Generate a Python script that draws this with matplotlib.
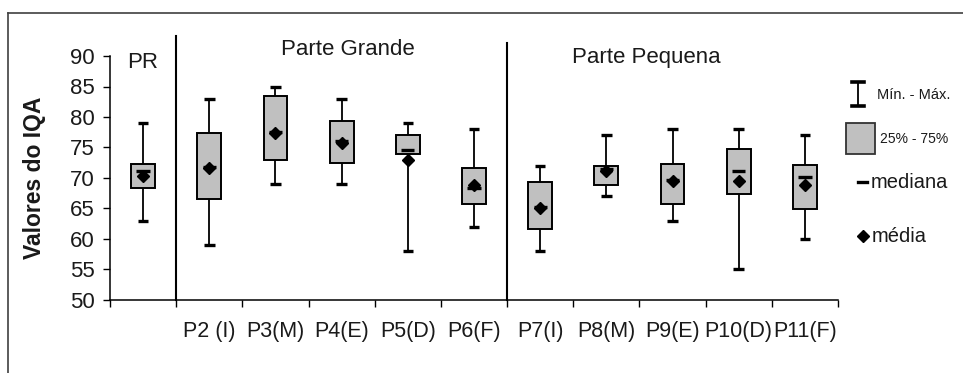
import matplotlib
matplotlib.use("Agg")
import matplotlib.pyplot as plt
from matplotlib.lines import Line2D
from matplotlib.patches import Rectangle

plt.rcParams['font.family'] = ['Liberation Sans', 'DejaVu Sans']

categories = ["PR", "P2 (I)", "P3(M)", "P4(E)", "P5(D)", "P6(F)",
              "P7(I)", "P8(M)", "P9(E)", "P10(D)", "P11(F)"]
tick_labels = ["", "P2 (I)", "P3(M)", "P4(E)", "P5(D)", "P6(F)",
               "P7(I)", "P8(M)", "P9(E)", "P10(D)", "P11(F)"]
mins = [63, 59, 69, 69, 58, 62, 58, 67, 63, 55, 60]
maxs = [79, 83, 85, 83, 79, 78, 72, 77, 78, 78, 77]
q1 = [68.4, 66.6, 72.9, 72.5, 74.0, 65.8, 61.6, 68.8, 65.8, 67.3, 64.9]
q3 = [72.3, 77.3, 83.4, 79.3, 77.1, 71.7, 69.3, 71.9, 72.3, 74.7, 72.1]
medians = [71.1, 71.8, 77.5, 76.0, 74.6, 68.3, 65.2, 71.5, 69.6, 71.1, 70.1]
means = [70.4, 71.6, 77.3, 75.7, 72.9, 68.8, 65.1, 71.1, 69.5, 69.5, 68.8]
group_labels = ["PR", "Parte Grande", "Parte Pequena"]

W, H = 963, 373
fig = plt.figure(figsize=(W / 100, H / 100), dpi=100)
ax = fig.add_axes([110 / W, 1 - 300 / H, 728 / W, 244 / H])

x = list(range(len(categories)))
txtc = "#1a1a1a"

# whiskers
ax.vlines(x, mins, maxs, color="black", lw=1.3, zorder=2)
ax.hlines(mins, [i - 0.08 for i in x], [i + 0.08 for i in x], color="black", lw=2.4, zorder=2)
ax.hlines(maxs, [i - 0.08 for i in x], [i + 0.08 for i in x], color="black", lw=2.4, zorder=2)
# boxes
ax.bar(x, [b - a for a, b in zip(q1, q3)], bottom=q1, width=0.36,
       color="#c0c0c0", edgecolor="black", linewidth=1.4, zorder=3)
# medians
ax.hlines(medians, [i - 0.1 for i in x], [i + 0.1 for i in x], color="black", lw=2.4, zorder=4)
# means
ax.plot(x, means, linestyle="none", marker="D", color="black", markersize=6.5, zorder=5)

ax.set_xlim(-0.5, 10.5)
ax.set_ylim(50, 90)
ax.set_yticks(range(50, 91, 5))
ax.tick_params(axis="y", labelsize=16, length=5, width=1, pad=6, labelcolor=txtc)
ax.set_xticks([i - 0.5 for i in range(12)])
ax.set_xticklabels([])
ax.set_xticks(x, minor=True)
ax.set_xticklabels(tick_labels, minor=True)
ax.tick_params(axis="x", which="major", length=5, width=1, direction="out")
ax.tick_params(axis="x", which="minor", length=0, labelsize=15.5, pad=15, labelcolor=txtc)
for s in ["top", "right"]:
    ax.spines[s].set_visible(False)
for s in ["left", "bottom"]:
    ax.spines[s].set_linewidth(1.1)

ax.set_ylabel("Valores do IQA", fontsize=16.5, fontweight="bold", color=txtc)
ax.yaxis.set_label_coords(-0.088, 0.5)

# group separators
ax.axvline(0.5, ymin=0, ymax=1.082, color="black", lw=1.5, clip_on=False)
ax.axvline(5.5, ymin=0, ymax=1.053, color="black", lw=1.5, clip_on=False)

ax.text(0, 89.0, group_labels[0], ha="center", va="center", fontsize=16, color=txtc)
ax.text(3.1, 91.0, group_labels[1], ha="center", va="center", fontsize=16, color=txtc)
ax.text(7.6, 89.8, group_labels[2], ha="center", va="center", fontsize=16, color=txtc)

# frame
fig.add_artist(Line2D([8 / W, 1], [1 - 13 / H, 1 - 13 / H], color="#404040", lw=1.2))
fig.add_artist(Line2D([8 / W, 8 / W], [0, 1 - 13 / H], color="#404040", lw=1.2))

# legend (manual)
def fx(px):
    return px / W

def fy(py):
    return 1 - py / H

fig.add_artist(Line2D([fx(858), fx(858)], [fy(82), fy(106)], color="black", lw=1.3))
fig.add_artist(Line2D([fx(852), fx(864)], [fy(82), fy(82)], color="black", lw=2.6))
fig.add_artist(Line2D([fx(852), fx(864)], [fy(106), fy(106)], color="black", lw=2.6))
fig.text(fx(877), fy(95), "Mín. - Máx.", fontsize=10.5, va="center", color=txtc)
fig.add_artist(Rectangle((fx(846), fy(154)), fx(875) - fx(846), fy(123) - fy(154),
                         facecolor="#c0c0c0", edgecolor="#333333", lw=1.3))
fig.text(fx(880), fy(139), "25% - 75%", fontsize=10, va="center", color=txtc)
fig.add_artist(Line2D([fx(858), fx(867)], [fy(182), fy(182)], color="black", lw=2.4))
fig.text(fx(871), fy(182), "mediana", fontsize=14.5, va="center", color=txtc)
fig.add_artist(Line2D([fx(863)], [fy(236)], marker="D", color="black", markersize=6.5, linestyle="none"))
fig.text(fx(872), fy(236), "média", fontsize=14.5, va="center", color=txtc)

fig.savefig("out.png", dpi=100)
